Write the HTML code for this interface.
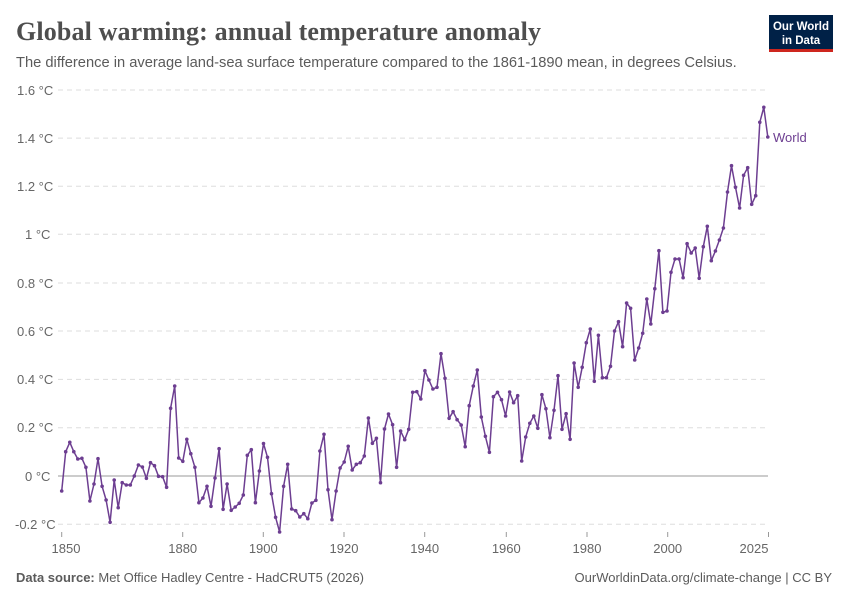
<!DOCTYPE html>
<html><head><meta charset="utf-8"><style>
body{margin:0;background:#fff;}
svg text{font-family:"Liberation Sans",sans-serif;}
</style></head><body>
<svg width="850" height="600" xmlns="http://www.w3.org/2000/svg">
<defs><marker id="m" viewBox="0 0 4 4" refX="2" refY="2" markerWidth="4" markerHeight="4" markerUnits="userSpaceOnUse"><circle cx="2" cy="2" r="1.8" fill="#6d3e91"/></marker></defs>
<rect width="850" height="600" fill="#fff"/>
<text x="16" y="40" font-size="26" font-weight="bold" fill="#4e4e4e" textLength="525" style="font-family:'Liberation Serif',serif">Global warming: annual temperature anomaly</text>
<text x="16" y="67" font-size="14.7" fill="#5b5b5b">The difference in average land-sea surface temperature compared to the 1861-1890 mean, in degrees Celsius.</text>
<rect x="769" y="15" width="64" height="37" fill="#002147"/>
<rect x="769" y="49" width="64" height="3" fill="#ce261e"/>
<text x="801" y="30" font-size="11.5" font-weight="bold" fill="#fff" text-anchor="middle">Our World</text>
<text x="801" y="44" font-size="11.5" font-weight="bold" fill="#fff" text-anchor="middle">in Data</text>
<g stroke="#ddd" stroke-dasharray="5,4" stroke-width="1">
<line x1="58" x2="768" y1="90" y2="90"/><line x1="58" x2="768" y1="138.1" y2="138.1"/>
<line x1="58" x2="768" y1="186.2" y2="186.2"/><line x1="58" x2="768" y1="234.3" y2="234.3"/>
<line x1="58" x2="768" y1="283" y2="283"/><line x1="58" x2="768" y1="331" y2="331"/>
<line x1="58" x2="768" y1="379.4" y2="379.4"/><line x1="58" x2="768" y1="427.7" y2="427.7"/>
<line x1="58" x2="768" y1="524.3" y2="524.3"/>
</g>
<line x1="58" x2="768" y1="476" y2="476" stroke="#999"/>
<g font-size="13" fill="#666">
<text x="17" y="95">1.6 °C</text><text x="17" y="143">1.4 °C</text><text x="17" y="191">1.2 °C</text>
<text x="25" y="239">1 °C</text><text x="17" y="288">0.8 °C</text><text x="17" y="336">0.6 °C</text>
<text x="17" y="384">0.4 °C</text><text x="17" y="432">0.2 °C</text><text x="25" y="481">0 °C</text>
<text x="15" y="529">-0.2 °C</text>
</g>
<g stroke="#999"><line x1="61.7" x2="61.7" y1="532" y2="537"/><line x1="182.7" x2="182.7" y1="532" y2="537"/><line x1="263.3" x2="263.3" y1="532" y2="537"/><line x1="344" x2="344" y1="532" y2="537"/><line x1="424.7" x2="424.7" y1="532" y2="537"/><line x1="506.3" x2="506.3" y1="532" y2="537"/><line x1="587" x2="587" y1="532" y2="537"/><line x1="667.7" x2="667.7" y1="532" y2="537"/><line x1="768.5" x2="768.5" y1="532" y2="537"/></g>
<g font-size="13" fill="#666" text-anchor="middle">
<text x="66" y="553">1850</text><text x="182.7" y="553">1880</text><text x="263.3" y="553">1900</text><text x="344" y="553">1920</text><text x="424.7" y="553">1940</text><text x="506.3" y="553">1960</text><text x="587" y="553">1980</text><text x="667.7" y="553">2000</text><text x="754" y="553">2025</text>
</g>
<polyline fill="none" stroke="#6d3e91" stroke-width="1.5" stroke-linejoin="round" marker-start="url(#m)" marker-mid="url(#m)" marker-end="url(#m)" points="61.7,491 65.7,451.7 69.8,442.3 73.8,451.7 77.8,459 81.9,458.3 85.9,467.3 89.9,501 94.0,484 98.0,458.7 102.1,486.3 106.1,500 110.1,522.3 114.2,480 118.2,507.7 122.2,482.7 126.3,485 130.3,485 134.3,476 138.4,465 142.4,467 146.4,478.3 150.5,462.7 154.5,465.7 158.5,476.3 162.6,476.7 166.6,487.3 170.6,408.3 174.7,386 178.7,458 182.8,461.3 186.8,439.3 190.8,453.7 194.9,467.3 198.9,502.7 202.9,498 207.0,486.3 211.0,506.3 215.0,478 219.1,448.7 223.1,509.3 227.1,484 231.2,510.3 235.2,507 239.2,503.3 243.3,495 247.3,455.3 251.3,449.7 255.4,502.7 259.4,471 263.5,443.5 267.5,457.3 271.5,493.7 275.6,517.3 279.6,532 283.6,486.3 287.7,464.3 291.7,509 295.7,510.7 299.8,517 303.8,513.7 307.8,518.7 311.9,503 315.9,500.3 319.9,451 324.0,434.3 328.0,489.7 332.0,519.7 336.1,491 340.1,468 344.2,462 348.2,446.3 352.2,470 356.3,464.3 360.3,462.7 364.3,456 368.4,418 372.4,443.3 376.4,438.3 380.5,482.7 384.5,429 388.5,414 392.6,424.7 396.6,467.3 400.6,431 404.7,439.7 408.7,429.3 412.7,392.3 416.8,391.7 420.8,399 424.9,370.7 428.9,380 432.9,389 437.0,387.3 441.0,353.7 445.0,378.3 449.1,418.3 453.1,411.7 457.1,419.7 461.2,425 465.2,446.7 469.2,405.7 473.3,386 477.3,370 481.3,417 485.4,436.3 489.4,452.3 493.4,396.7 497.5,392.3 501.5,399.7 505.6,416 509.6,392 513.6,402.7 517.7,395.7 521.7,461 525.7,437 529.8,423.3 533.8,416 537.8,428.3 541.9,394.7 545.9,408.7 549.9,437.7 554.0,410.3 558.0,375.7 562.0,429.3 566.1,413.7 570.1,439.3 574.1,363 578.2,387.3 582.2,367.3 586.3,342.7 590.3,329 594.3,381.3 598.4,335.3 602.4,377.7 606.4,377.7 610.5,366.3 614.5,331 618.5,321.7 622.6,346.7 626.6,303 630.6,308.3 634.7,360 638.7,348 642.7,333.3 646.8,299 650.8,324 654.8,288.7 658.9,250.7 662.9,312.3 667.0,311 671.0,272.3 675.0,259 679.1,259 683.1,277.7 687.1,243.7 691.2,253 695.2,248 699.2,278.3 703.3,246.7 707.3,226.3 711.3,260.7 715.4,251 719.4,240 723.4,228 727.5,192 731.5,165.7 735.5,187.3 739.6,208 743.6,175.3 747.7,167.7 751.7,204.3 755.7,195.7 759.8,122.3 763.8,107.3 767.8,137"/>
<text x="773" y="142" font-size="13" fill="#6d3e91">World</text>
<text x="16" y="582" font-size="13" fill="#5b5b5b"><tspan font-weight="bold">Data source:</tspan> Met Office Hadley Centre - HadCRUT5 (2026)</text>
<text x="832" y="582" font-size="13" fill="#5b5b5b" text-anchor="end">OurWorldinData.org/climate-change | CC BY</text>
</svg>
</body></html>
